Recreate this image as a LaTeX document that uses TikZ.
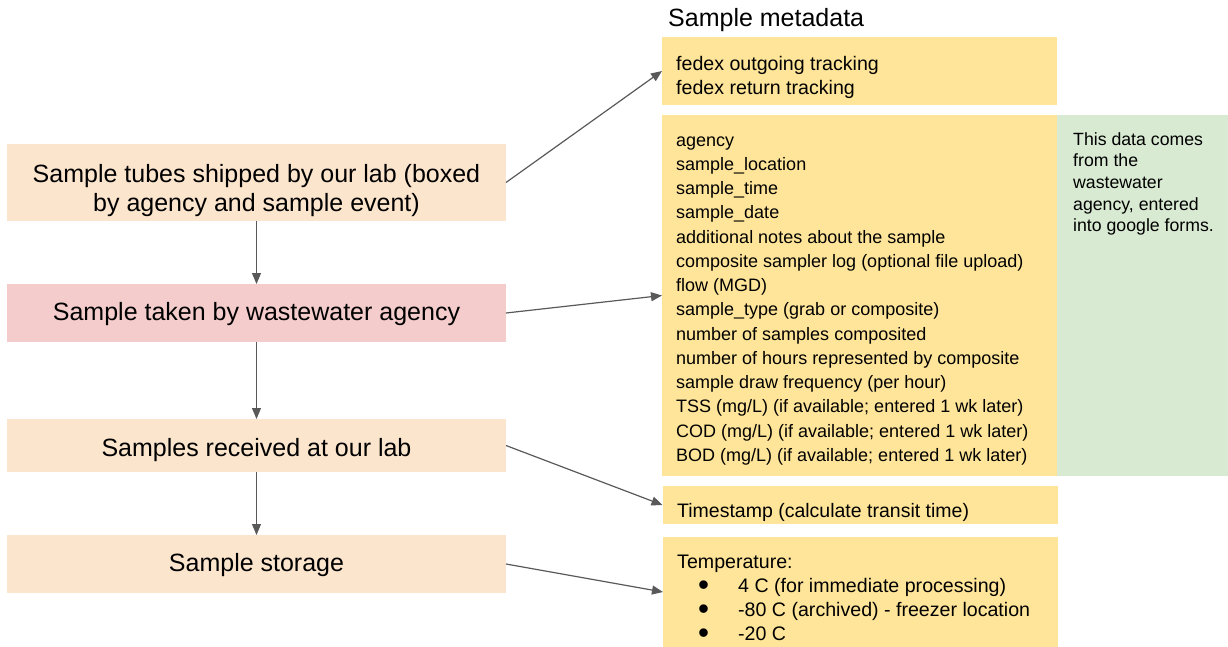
\documentclass[tikz,border=0pt]{standalone}
\usepackage{fontspec}
\setmainfont{Liberation Sans}
\usetikzlibrary{arrows.meta}
\definecolor{peach}{HTML}{FCE5CD}
\definecolor{pinkc}{HTML}{F4CCCC}
\definecolor{yel}{HTML}{FFE599}
\definecolor{grn}{HTML}{D9EAD3}
\definecolor{arr}{HTML}{595959}
\newcommand{\bigbul}{\makebox[61pt][l]{\hspace{21pt}\smash{\raisebox{-3.2pt}{\scalebox{1.6}{\textbullet}}}}}
\begin{document}
\begin{tikzpicture}[x=1pt,y=-1pt,
  box/.style={inner sep=0pt, outer sep=0pt, draw=none},
  lbox/.style={box, minimum width=499pt},
  rbox/.style={box, fill=yel, minimum width=395pt},
  ltext/.style={inner sep=0pt, font=\fontsize{25}{29.3}\selectfont, align=center},
  conn/.style={draw=arr, line width=1.2pt, -{Triangle[length=11pt,width=9pt]}}]
\useasboundingbox (0,0) rectangle (1228,647);
% left boxes
\node[lbox, fill=peach, minimum height=77pt] (b1) at (256.5,182.5) {};
\node[lbox, fill=pinkc, minimum height=58pt] (b2) at (256.5,313) {};
\node[lbox, fill=peach, minimum height=53pt] (b3) at (256.5,445.5) {};
\node[lbox, fill=peach, minimum height=58pt] (b4) at (256.5,564) {};
% right boxes
\node[rbox, minimum height=68pt] (fed) at (859.5,71) {};
\node[rbox, minimum height=361pt] (big) at (859.5,295.5) {};
\node[box, fill=grn, minimum width=171pt, minimum height=361pt] (grn) at (1142.5,295.5) {};
\node[rbox, minimum height=38pt] (ts) at (860,505) {};
\node[rbox, minimum height=110pt] (tmp) at (860.5,592) {};
% left texts
\node[ltext, anchor=north] (t1) at (256.5,161.5) {\strut Sample tubes shipped by our lab (boxed\\by agency and sample event)};
\node[ltext, anchor=base] (t2) at (256.5,320.7) {Sample taken by wastewater agency};
\node[ltext, anchor=base] (t3) at (256.5,456.7) {Samples received at our lab};
\node[ltext, anchor=base] (t4) at (256.5,571.7) {Sample storage};
% title
\node[inner sep=0pt, anchor=base west, font=\fontsize{25}{30}\selectfont] (title) at (668,27) {Sample metadata};
% right texts
\node[inner sep=0pt, anchor=north west, align=left, font=\fontsize{19.6}{24}\selectfont] (tfed) at (676,53.2)
  {\strut fedex outgoing tracking\\fedex return tracking};
\node[inner sep=0pt, anchor=north west, align=left, font=\fontsize{18}{24.25}\selectfont] (tbig) at (676,129.0)
  {\strut agency\\sample\_location\\sample\_time\\sample\_date\\additional notes about the sample\\composite sampler log (optional file upload)\\flow (MGD)\\sample\_type (grab or composite)\\number of samples composited\\number of hours represented by composite\\sample draw frequency (per hour)\\TSS (mg/L) (if available; entered 1 wk later)\\COD (mg/L) (if available; entered 1 wk later)\\BOD (mg/L) (if available; entered 1 wk later)};
\node[inner sep=0pt, anchor=north west, align=left, font=\fontsize{17.7}{21.6}\selectfont] (tgrn) at (1073,129.9)
  {\strut This data comes\\from the\\wastewater\\agency, entered\\into google forms.};
\node[inner sep=0pt, anchor=base west, font=\fontsize{19.5}{24}\selectfont] (tts) at (677,517) {Timestamp (calculate transit time)};
\node[inner sep=0pt, anchor=north west, align=left, font=\fontsize{19.6}{24}\selectfont] (ttmp) at (677,551.2)
  {\strut Temperature:\\
   \bigbul 4 C (for immediate processing)\\
   \bigbul -80 C (archived) - freezer location\\
   \bigbul -20 C};
% connectors
\draw[conn] (b1.south) -- (b2.north);
\draw[conn] (b2.south) -- (b3.north);
\draw[conn] (b3.south) -- (b4.north);
\draw[conn] (b1.east) -- (fed.west);
\draw[conn] (b2.east) -- (big.west);
\draw[conn] (b3.east) -- (ts.west);
\draw[conn] (b4.east) -- (tmp.west);
\end{tikzpicture}
\end{document}
